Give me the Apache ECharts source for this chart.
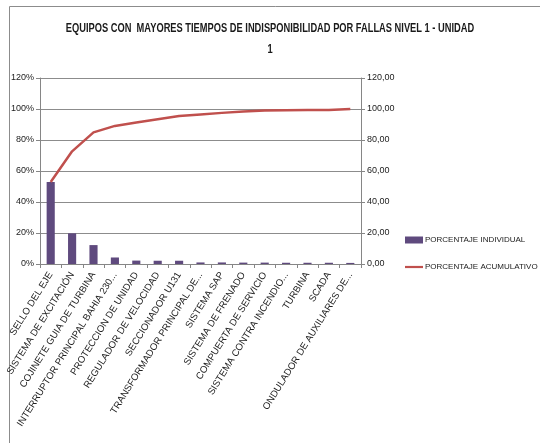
<!DOCTYPE html>
<html>
<head>
<meta charset="utf-8">
<script src="https://cdn.jsdelivr.net/npm/echarts@6/dist/echarts.min.js"></script>
<style>
  html, body { margin: 0; padding: 0; background: #fff; }
  #chart { width: 540px; height: 443px; }
</style>
</head>
<body>
<div id="chart"></div>
<script>
var titleLines = ['EQUIPOS CON  MAYORES TIEMPOS DE INDISPONIBILIDAD POR FALLAS NIVEL 1 - UNIDAD', '1'];
var categories = [
  'SELLO DEL EJE',
  'SISTEMA DE EXCITACIÓN',
  'COJINETE GUIA DE TURBINA',
  'INTERRUPTOR PRINCIPAL BAHIA 230...',
  'PROTECCION DE UNIDAD',
  'REGULADOR DE VELOCIDAD',
  'SECCIONADOR U131',
  'TRANSFORMADOR PRINCIPAL DE...',
  'SISTEMA SAP',
  'SISTEMA DE FRENADO',
  'COMPUERTA DE SERVICIO',
  'SISTEMA CONTRA INCENDIO...',
  'TURBINA',
  'SCADA',
  'ONDULADOR DE AUXILIARES DE...'
];
// porcentaje individual (eje izquierdo, %)
var individual = [52.9, 19.8, 12.2, 4.2, 2.2, 2.1, 2.1, 1.0, 1.0, 0.9, 0.9, 0.8, 0.8, 0.8, 0.7];
// porcentaje acumulativo (eje derecho)
var acumulativo = [52.9, 72.7, 84.9, 89.1, 91.3, 93.4, 95.5, 96.5, 97.5, 98.4, 99.0, 99.2, 99.3, 99.4, 100.0];
var leftTicks = ['0%', '20%', '40%', '60%', '80%', '100%', '120%'];

var font = '"Liberation Sans", Arial, sans-serif';
var chart = echarts.init(document.getElementById('chart'));

var option = {
  animation: false,
  backgroundColor: '#fff',
  graphic: [
    {
      type: 'rect',
      shape: { x: 9.5, y: 6.5, width: 560, height: 460 },
      style: { fill: 'none', stroke: '#8c8c8c', lineWidth: 1 },
      silent: true
    },
    {
      type: 'text',
      x: 270, y: 29, scaleX: 0.775,
      style: {
        text: titleLines[0], align: 'center', verticalAlign: 'middle',
        font: 'bold 12px ' + font, fill: '#1a1a1a'
      }
    },
    {
      type: 'text',
      x: 270, y: 50, scaleX: 0.775,
      style: {
        text: titleLines[1], align: 'center', verticalAlign: 'middle',
        font: 'bold 12px ' + font, fill: '#1a1a1a'
      }
    }
  ],
  legend: {
    orient: 'vertical',
    left: 405,
    top: 236,
    padding: 0,
    itemGap: 19,
    itemWidth: 18,
    itemHeight: 7,
    textStyle: { fontFamily: font, fontSize: 8, color: '#1a1a1a', padding: [0, 0, 0, -3] },
    data: [
      { name: 'PORCENTAJE INDIVIDUAL', icon: 'rect' },
      { name: 'PORCENTAJE ACUMULATIVO', icon: 'path://M0,3 L18,3 L18,5.2 L0,5.2 Z' }
    ]
  },
  grid: { left: 40, right: 179, top: 78, bottom: 179 },
  xAxis: {
    type: 'category',
    data: categories,
    axisLine: { lineStyle: { color: '#868686' } },
    axisTick: { show: true, alignWithLabel: false, length: 4, lineStyle: { color: '#868686' } },
    axisLabel: {
      interval: 0,
      rotate: 58,
      fontFamily: font,
      fontSize: 9.6,
      color: '#222',
      margin: 9
    }
  },
  yAxis: [
    {
      type: 'value',
      min: 0, max: 120, interval: 20,
      axisLine: { show: true, lineStyle: { color: '#868686' } },
      axisTick: { show: true, length: 4, lineStyle: { color: '#868686' } },
      splitLine: { lineStyle: { color: '#8c8c8c', width: 1 } },
      axisLabel: {
        fontFamily: font, fontSize: 9, color: '#222', margin: 6,
        formatter: function (v) { return leftTicks[v / 20]; }
      }
    },
    {
      type: 'value',
      min: 0, max: 120, interval: 20,
      axisLine: { show: true, lineStyle: { color: '#868686' } },
      axisTick: { show: true, length: 4, lineStyle: { color: '#868686' } },
      splitLine: { show: false },
      axisLabel: {
        fontFamily: font, fontSize: 9, color: '#222', margin: 6,
        formatter: function (v) { return v.toFixed(2).replace('.', ','); }
      }
    }
  ],
  series: [
    {
      name: 'PORCENTAJE INDIVIDUAL',
      type: 'bar',
      yAxisIndex: 0,
      data: individual,
      barWidth: '38%',
      itemStyle: { color: '#5f4a7e' }
    },
    {
      name: 'PORCENTAJE ACUMULATIVO',
      type: 'line',
      yAxisIndex: 1,
      data: acumulativo,
      symbol: 'none',
      lineStyle: { color: '#c0504d', width: 2.5 },
      itemStyle: { color: '#c0504d' }
    }
  ]
};

chart.setOption(option);
</script>
</body>
</html>
